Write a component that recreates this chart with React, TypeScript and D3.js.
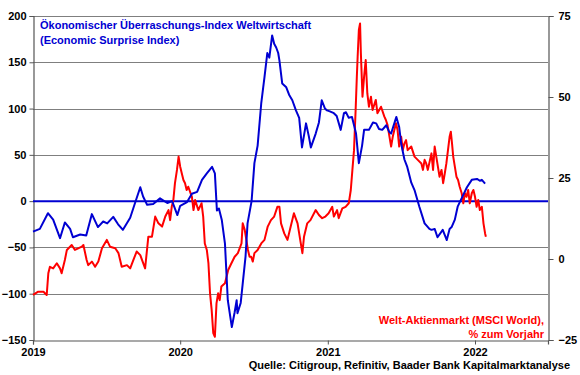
import { useEffect, useRef } from "react";
import * as d3 from "d3";

// Economic Surprise Index (left axis)
const surpriseDates = [
  "2019-01-01", "2019-01-18", "2019-02-07", "2019-02-20", "2019-03-09", "2019-03-21", "2019-04-03", "2019-04-10",
  "2019-04-28", "2019-05-13", "2019-05-27", "2019-06-11", "2019-06-24", "2019-07-04", "2019-07-19", "2019-07-31",
  "2019-08-12", "2019-08-30", "2019-09-11", "2019-09-24", "2019-10-01", "2019-10-11", "2019-10-26", "2019-11-12",
  "2019-11-30", "2019-12-12", "2019-12-25", "2020-01-01", "2020-01-18", "2020-01-30", "2020-02-12", "2020-02-24",
  "2020-03-07", "2020-03-20", "2020-03-27", "2020-04-01", "2020-04-06", "2020-04-13", "2020-04-21", "2020-04-28",
  "2020-05-08", "2020-05-15", "2020-05-20", "2020-05-22", "2020-05-30", "2020-06-04", "2020-06-11", "2020-06-16",
  "2020-06-26", "2020-07-03", "2020-07-11", "2020-07-20", "2020-07-28", "2020-08-04", "2020-08-09", "2020-08-16",
  "2020-08-21", "2020-08-26", "2020-08-31", "2020-09-03", "2020-09-10", "2020-09-20", "2020-09-27", "2020-10-05",
  "2020-10-14", "2020-10-22", "2020-10-29", "2020-11-08", "2020-11-15", "2020-11-20", "2020-12-02", "2020-12-10",
  "2020-12-17", "2020-12-25", "2020-12-30", "2021-01-06", "2021-01-16", "2021-01-23", "2021-02-02", "2021-02-10",
  "2021-02-15", "2021-02-22", "2021-03-02", "2021-03-12", "2021-03-19", "2021-03-27", "2021-04-01", "2021-04-13",
  "2021-04-23", "2021-05-01", "2021-05-08", "2021-05-16", "2021-05-26", "2021-06-02", "2021-06-07", "2021-06-20",
  "2021-06-27", "2021-07-02", "2021-07-10", "2021-07-17", "2021-07-27", "2021-08-04", "2021-08-16", "2021-08-29",
  "2021-09-10", "2021-09-15", "2021-09-23", "2021-09-30", "2021-10-13", "2021-10-23", "2021-10-30", "2021-11-04",
  "2021-11-12", "2021-11-19", "2021-12-02", "2021-12-12", "2021-12-24", "2022-01-06", "2022-01-13", "2022-01-18",
  "2022-01-26",
];
const surpriseValues = [
  -33, -30, -13, -20, -40, -23, -30, -39,
  -36, -37, -14, -28, -22, -24, -17, -25,
  -31, -18, -2, 15, 5, -4, -3, 3,
  -2, 0, -15, -5, -1, 8, 10, 23,
  30, 37, 30, -10, -8, -20, -46, -107,
  -136, -120, -107, -121, -110, -89, -60, -24,
  0, 41, 60, 106, 134, 160, 155, 179,
  170, 166, 160, 152, 127, 123, 115, 109,
  98, 90, 58, 84, 70, 58, 73, 85,
  109, 100, 98, 97, 95, 92, 77, 95,
  96, 90, 91, 73, 41, 60, 77, 77,
  85, 84, 78, 77, 82, 75, 73, 91,
  80, 62, 45, 37, 20, 12, -6, -24,
  -30, -31, -30, -39, -31, -42, -30, -28,
  -20, -6, 6, 15, 23, 24, 22, 23,
  19,
];

// MSCI World, % y/y (right axis)
const msciDates = [
  "2019-01-01", "2019-01-14", "2019-01-27", "2019-02-04", "2019-02-08", "2019-02-12", "2019-02-20", "2019-03-01",
  "2019-03-09", "2019-03-13", "2019-03-21", "2019-03-26", "2019-04-07", "2019-04-15", "2019-04-23", "2019-05-02",
  "2019-05-06", "2019-05-14", "2019-05-18", "2019-05-27", "2019-06-04", "2019-06-12", "2019-06-21", "2019-07-03",
  "2019-07-11", "2019-07-24", "2019-08-01", "2019-08-09", "2019-08-22", "2019-08-30", "2019-09-07", "2019-09-15",
  "2019-09-24", "2019-10-06", "2019-10-14", "2019-10-23", "2019-10-31", "2019-11-08", "2019-11-17", "2019-11-25",
  "2019-12-03", "2019-12-07", "2019-12-11", "2019-12-15", "2019-12-19", "2019-12-24", "2019-12-28", "2020-01-01",
  "2020-01-05", "2020-01-09", "2020-01-13", "2020-01-17", "2020-01-21", "2020-01-30", "2020-02-03", "2020-02-07",
  "2020-02-15", "2020-02-23", "2020-02-27", "2020-03-02", "2020-03-07", "2020-03-11", "2020-03-15", "2020-03-19",
  "2020-03-23", "2020-03-27", "2020-03-31", "2020-04-04", "2020-04-08", "2020-04-12", "2020-04-21", "2020-04-25",
  "2020-04-29", "2020-05-07", "2020-05-15", "2020-05-23", "2020-06-01", "2020-06-04", "2020-06-09", "2020-06-13",
  "2020-06-17", "2020-06-21", "2020-06-25", "2020-06-29", "2020-07-03", "2020-07-11", "2020-07-20", "2020-07-28",
  "2020-08-05", "2020-08-13", "2020-08-21", "2020-08-29", "2020-09-03", "2020-09-07", "2020-09-15", "2020-09-23",
  "2020-10-01", "2020-10-09", "2020-10-18", "2020-10-26", "2020-10-30", "2020-11-03", "2020-11-11", "2020-11-19",
  "2020-12-02", "2020-12-10", "2020-12-18", "2020-12-26", "2021-01-03", "2021-01-12", "2021-01-16", "2021-01-24",
  "2021-01-28", "2021-02-06", "2021-02-14", "2021-02-22", "2021-02-27", "2021-03-03", "2021-03-07", "2021-03-11",
  "2021-03-14", "2021-03-16", "2021-03-19", "2021-03-22", "2021-03-24", "2021-03-28", "2021-04-01", "2021-04-05",
  "2021-04-09", "2021-04-13", "2021-04-18", "2021-04-22", "2021-04-30", "2021-05-04", "2021-05-13", "2021-05-21",
  "2021-05-25", "2021-05-29", "2021-06-07", "2021-06-11", "2021-06-19", "2021-06-23", "2021-06-27", "2021-07-02",
  "2021-07-06", "2021-07-10", "2021-07-14", "2021-07-18", "2021-07-27", "2021-08-04", "2021-08-12", "2021-08-21",
  "2021-08-25", "2021-08-29", "2021-09-02", "2021-09-06", "2021-09-15", "2021-09-19", "2021-09-23", "2021-09-27",
  "2021-10-01", "2021-10-05", "2021-10-10", "2021-10-14", "2021-10-18", "2021-10-22", "2021-10-26", "2021-10-30",
  "2021-11-02", "2021-11-05", "2021-11-08", "2021-11-12", "2021-11-16", "2021-11-20", "2021-11-24", "2021-11-29",
  "2021-12-03", "2021-12-07", "2021-12-11", "2021-12-15", "2021-12-19", "2021-12-24", "2021-12-28", "2022-01-01",
  "2022-01-05", "2022-01-09", "2022-01-13", "2022-01-18", "2022-01-22", "2022-01-26", "2022-01-28",
];
const msciValues = [
  -11.1, -10.1, -10.1, -11.1, -4.4, -2.4, -2.9, -1.3,
  -2.9, -4.4, -0.3, 2.8, 4.3, 2.8, 3.3, 3.8,
  4.3, -0.3, -1.9, -0.8, -2.4, -0.8, 3.3, 5.9,
  3.8, 3.3, 1.8, -2.4, -1.9, -2.9, -0.3, 2.3,
  1.2, -2.9, 6.9, 6.9, 13.1, 11.0, 10.0, 13.1,
  15.1, 12.0, 16.1, 18.2, 23.4, 27.5, 31.6, 28.5,
  26.4, 24.4, 23.4, 21.3, 22.3, 19.2, 15.1, 18.2,
  15.1, 17.2, 13.1, 4.8, 2.8, -1.3, -10.6, -15.7,
  -22.9, -24.0, -13.7, -10.6, -12.7, -8.5, -7.5, -5.5,
  -3.4, -1.3, 0.7, 1.8, 4.8, 11.0, 9.0, 5.9,
  2.8, 0.7, 0.7, -0.8, 1.8, 2.8, 4.8, 5.9,
  10.0, 12.0, 13.1, 16.1, 16.1, 11.0, 7.9, 5.9,
  10.0, 14.1, 11.0, 4.8, 1.8, 6.9, 11.0, 12.0,
  15.1, 13.6, 12.6, 13.1, 14.1, 16.1, 13.1, 15.1,
  12.6, 15.6, 16.1, 17.2, 21.3, 27.5, 33.6, 46.0,
  56.3, 62.4, 70.7, 72.7, 63.5, 50.1, 56.3, 61.4,
  51.1, 47.0, 50.1, 46.0, 49.1, 45.0, 47.0, 44.0,
  42.9, 41.4, 34.7, 37.7, 41.9, 39.8, 34.7, 37.7,
  33.6, 35.7, 36.7, 33.6, 34.7, 31.6, 30.6, 29.5,
  27.5, 30.6, 29.5, 27.5, 32.6, 27.5, 34.7, 31.6,
  28.5, 25.4, 27.5, 23.4, 26.4, 29.5, 33.6, 37.7,
  39.3, 35.7, 31.6, 28.5, 25.4, 24.4, 22.3, 20.3,
  17.2, 20.3, 19.2, 21.3, 17.2, 20.3, 21.3, 19.2,
  16.1, 18.2, 15.1, 16.1, 11.0, 7.9, 6.9,
];

const leftTicks = [200, 150, 100, 50, 0, -50, -100, -150];
const rightTicks = [75, 50, 25, 0, -25];
const yearTicks = ["2019-01-01", "2020-01-01", "2021-01-01", "2022-01-01"];

const BLUE = "#0000d2";
const RED = "#ff0000";
const FONT = "'Liberation Sans', Arial, sans-serif";

export default function App() {
  const ref = useRef<SVGSVGElement>(null);

  useEffect(() => {
    document.body.style.margin = "0";
    if (!ref.current) return;
    const svg = d3.select(ref.current);
    svg.selectAll("*").remove();

    const width = 580;
    const height = 375;
    const margin = { top: 16, right: 32, bottom: 35, left: 33 };
    const parse = d3.timeParse("%Y-%m-%d");

    const x = d3
      .scaleTime()
      .domain([parse("2019-01-01")!, parse("2022-07-01")!])
      .range([margin.left, width - margin.right]);
    const yL = d3.scaleLinear().domain([-150, 200]).range([height - margin.bottom, margin.top]);
    const yR = d3.scaleLinear().domain([-25, 75]).range([height - margin.bottom, margin.top]);

    // gridlines
    svg
      .append("g")
      .selectAll("line")
      .data(leftTicks.filter((t) => t !== 0 && t !== -150))
      .join("line")
      .attr("x1", margin.left)
      .attr("x2", width - margin.right)
      .attr("y1", (d) => Math.round(yL(d)) + 0.5)
      .attr("y2", (d) => Math.round(yL(d)) + 0.5)
      .attr("stroke", "#7f7f7f")
      .attr("stroke-width", 1);

    // left axis
    const gl = svg
      .append("g")
      .attr("transform", `translate(${margin.left + 0.5},0)`)
      .call(d3.axisLeft(yL).tickValues(leftTicks).tickSize(4).tickPadding(3).tickFormat(d3.format("d")));
    gl.select(".domain").attr("stroke", "#555").attr("stroke-width", 1.2);
    gl.selectAll(".tick line").attr("stroke", "#555");
    gl.selectAll(".tick text")
      .attr("fill", "#000")
      .attr("font-family", FONT)
      .attr("font-weight", "bold")
      .attr("font-size", "11px");

    // right axis
    const gr = svg
      .append("g")
      .attr("transform", `translate(${width - margin.right + 0.5},0)`)
      .call(d3.axisRight(yR).tickValues(rightTicks).tickSize(5).tickPadding(5).tickFormat(d3.format("d")));
    gr.select(".domain").attr("stroke", "#555").attr("stroke-width", 1.2);
    gr.selectAll(".tick line").attr("stroke", "#555");
    gr.selectAll(".tick text")
      .attr("fill", "#000")
      .attr("font-family", FONT)
      .attr("font-weight", "bold")
      .attr("font-size", "11px");

    // bottom axis
    const gb = svg
      .append("g")
      .attr("transform", `translate(0,${height - margin.bottom + 0.5})`)
      .call(
        d3
          .axisBottom(x)
          .tickValues(yearTicks.map((d) => parse(d)!))
          .tickSize(4)
          .tickPadding(4)
          .tickFormat((d) => d3.timeFormat("%Y")(d as Date))
      );
    gb.select(".domain").attr("stroke", "#555").attr("stroke-width", 1.2);
    gb.selectAll(".tick line").attr("stroke", "#555");
    gb.selectAll(".tick text")
      .attr("fill", "#000")
      .attr("font-family", FONT)
      .attr("font-weight", "bold")
      .attr("font-size", "11px");

    // zero line
    svg
      .append("line")
      .attr("x1", margin.left)
      .attr("x2", width - margin.right)
      .attr("y1", yL(0))
      .attr("y2", yL(0))
      .attr("stroke", BLUE)
      .attr("stroke-width", 2);

    const msci = msciDates.map((d, i) => ({ date: parse(d)!, value: msciValues[i] }));
    const surprise = surpriseDates.map((d, i) => ({ date: parse(d)!, value: surpriseValues[i] }));

    svg
      .append("path")
      .datum(msci)
      .attr("fill", "none")
      .attr("stroke", RED)
      .attr("stroke-width", 2)
      .attr("stroke-linejoin", "round")
      .attr(
        "d",
        d3
          .line<{ date: Date; value: number }>()
          .x((d) => x(d.date))
          .y((d) => yR(d.value))
      );

    svg
      .append("path")
      .datum(surprise)
      .attr("fill", "none")
      .attr("stroke", BLUE)
      .attr("stroke-width", 2)
      .attr("stroke-linejoin", "round")
      .attr(
        "d",
        d3
          .line<{ date: Date; value: number }>()
          .x((d) => x(d.date))
          .y((d) => yL(d.value))
      );

    // titles
    const title = svg
      .append("text")
      .attr("font-family", FONT)
      .attr("font-weight", "bold")
      .attr("font-size", "11px")
      .attr("fill", BLUE);
    title.append("tspan").attr("x", 40).attr("y", 29).text("Ökonomischer Überraschungs-Index Weltwirtschaft");
    title.append("tspan").attr("x", 40).attr("y", 44).text("(Economic Surprise Index)");

    const red = svg
      .append("text")
      .attr("font-family", FONT)
      .attr("font-weight", "bold")
      .attr("font-size", "11px")
      .attr("fill", RED)
      .attr("text-anchor", "end");
    red.append("tspan").attr("x", 544).attr("y", 324).text("Welt-Aktienmarkt (MSCI World),");
    red.append("tspan").attr("x", 544).attr("y", 338).text("% zum Vorjahr");

    svg
      .append("text")
      .attr("x", 570)
      .attr("y", 369)
      .attr("text-anchor", "end")
      .attr("font-family", FONT)
      .attr("font-weight", "bold")
      .attr("font-size", "11px")
      .attr("fill", "#000")
      .text("Quelle: Citigroup, Refinitiv, Baader Bank Kapitalmarktanalyse");
  }, []);

  return <svg ref={ref} width={580} height={375} style={{ display: "block", background: "#fff" }} />;
}
